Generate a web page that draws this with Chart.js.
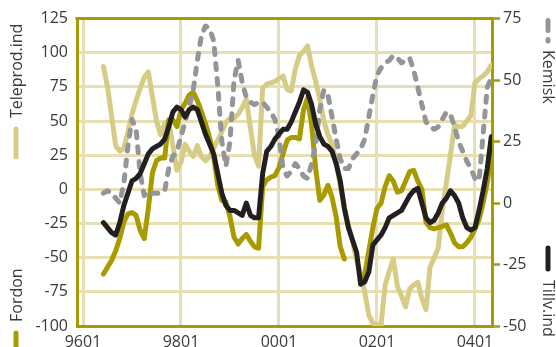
<!DOCTYPE html>
<html><head><meta charset="utf-8">
<script src="https://cdn.jsdelivr.net/npm/chart.js@4/dist/chart.umd.min.js"></script>
<style>html,body{margin:0;padding:0;background:#fff;overflow:hidden}#wrap{width:556px;height:347px;position:relative}</style>
</head><body><div id="wrap"><canvas id="c" width="556" height="347"></canvas></div>
<script>
// Monthly categories 9606 .. 0405
const months = (function(){const out=[];let y=1996,m=6;while(!(y===2004&&m===6)){out.push(String(y%100).padStart(2,'0')+String(m).padStart(2,'0'));m++;if(m>12){m=1;y++;}}return out;})();
const tickLabels = ['9601','9801','0001','0201','0401'];
const leftTicks = [-100,-75,-50,-25,0,25,50,75,100,125];
const rightTicks = [-50,-25,0,25,50,75];

// Left axis series
const teleprod = [90,75,54,32,28,30,42,55,65,74,82,86,68,50,40,48,50,32,14,20,33,28,24,32,24,21,24,30,36,42,49,52,52,55,60,66,45,25,17,74,77,78,79,81,83,73,72,88,98,101,105,90,79,66,50,40,33,21,2,-14,-26,-38,-52,-62,-75,-92,-98,-99,-99,-70,-60,-51,-71,-78,-86,-73,-70,-68,-80,-88,-57,-50,-43,-15,5,25,47,46,46,50,54,78,81,83,86,91];
const fordon = [-62,-57,-52,-45,-36,-24,-18,-17,-19,-30,-36,-14,12,21,23,23,51,51,46,58,63,69,71,65,57,48,38,24,3,-8,-9,-20,-35,-40,-36,-33,-38,-42,-43,2,7,9,10,16,26,36,38,38,37,58,67,47,15,-8,-4,3,-6,-20,-42,-51,null,null,null,-69,-62,-45,-28,-14,-10,2,10,6,-2,-1,6,13,14,6,0,-24,-28,-29,-28,-27,-26,-32,-39,-42,-42,-39,-35,-29,-22,-10,5,25];
// Right axis series
const kemisk = [4,5,4,2,0,8,23,34,30,12,3,5,4,4,4,5,14,19,21,27,33,39,46,58,68,72,71,66,48,25,15,25,50,58,49,43,41,40,41,41,39,37,34,27,14,11,13,16,14,11,10,16,24,38,46,44,35,26,18,14,14,18,20,22,26,35,44,52,55,57,58,60,59,57,58,59,54,47,40,33,31,30,31,34,37,36,31,25,21,17,14,10,9,28,47,51];
const tillv = [-8,-10,-12,-13,-8,-1,4,9,10,12,16,20,22,23,24,26,31,37,39,38,35,38,39,38,33,28,24,20,12,4,-1,-3,-3,-4,-5,0,-5,-6,-6,12,21,23,26,28,30,30,33,37,41,46,45,40,32,27,24,23,21,16,9,-2,-10,-15,-20,-33,-32,-28,-17,-15,-13,-10,-6,-5,-4,-3,0,3,5,6,0,-6,-8,-7,-4,0,2,5,3,0,-6,-10,-11,-10,-3,5,14,27];

const C = {tele:'#d6cc86', ford:'#a89b00', kem:'#939598', till:'#231f20', grid:'#e7dfb3', axis:'#a89b00', text:'#3a3a3a'};
function monthIndex(l){const yy=+l.slice(0,2),mm=+l.slice(2);const y=yy<50?2000+yy:1900+yy;return (y-1996)*12+mm-1;}
const pts = arr => months.map((l,i)=>({x:monthIndex(l),y:arr[i]}));

Chart.defaults.font.family = "'Open Sans', sans-serif";
Chart.defaults.font.size = 16;
Chart.defaults.color = C.text;

const sideLegend = {
  id:'sideLegend',
  beforeDatasetsDraw(chart){
    const {ctx, chartArea:a} = chart;
    ctx.save(); ctx.strokeStyle=C.axis; ctx.lineWidth=3;
    ctx.beginPath(); ctx.moveTo(a.left-1.5,a.top); ctx.lineTo(a.right+1.5,a.top); ctx.stroke();
    ctx.restore();
  },
  afterDraw(chart){
    const ctx = chart.ctx; ctx.save();
    ctx.font = "16px 'Open Sans', sans-serif"; ctx.fillStyle = C.text; ctx.textBaseline='middle'; ctx.textAlign='left';
    const left=(t,x,y)=>{ctx.save();ctx.translate(x,y);ctx.rotate(-Math.PI/2);ctx.fillText(t,0,0);ctx.restore();};
    const right=(t,x,y)=>{ctx.save();ctx.translate(x,y);ctx.rotate(Math.PI/2);ctx.fillText(t,0,0);ctx.restore();};
    left('Teleprod.ind',17,118); left('Fordon',17,322);
    right('Kemisk',548,50); right('Tillv.ind',548,280);
    ctx.lineCap='round'; ctx.lineWidth=5;
    const seg=(col,x,y1,y2,dash)=>{ctx.strokeStyle=col;ctx.setLineDash(dash||[]);ctx.beginPath();ctx.moveTo(x,y1);ctx.lineTo(x,y2);ctx.stroke();};
    seg(C.tele,16,129,157); seg(C.ford,16,333,352);
    seg(C.kem,548,20.5,41,[10,9]); seg(C.till,548,248,269);
    ctx.restore();
  }
};

const ds = (label,arr,color,axis,order,extra)=>Object.assign({label,data:pts(arr),borderColor:color,backgroundColor:color,yAxisID:axis,order,borderWidth:5,pointRadius:0,tension:0,borderJoinStyle:'round',borderCapStyle:'round',fill:false,spanGaps:false},extra||{});

new Chart(document.getElementById('c'),{
  type:'line',
  data:{datasets:[
    ds('Tillv.ind',tillv,C.till,'yR',0),
    ds('Kemisk',kemisk,C.kem,'yR',1,{borderDash:[6,9]}),
    ds('Fordon',fordon,C.ford,'yL',2),
    ds('Teleprod.ind',teleprod,C.tele,'yL',3)
  ]},
  options:{
    responsive:false, animation:false, devicePixelRatio:1,
    layout:{padding:{top:17,left:0,right:0,bottom:0}},
    plugins:{legend:{display:false},tooltip:{enabled:false}},
    scales:{
      x:{type:'linear',min:-1.47,max:100.17,
        afterBuildTicks:s=>{s.ticks=tickLabels.map(l=>({value:monthIndex(l)}));},
        afterFit:s=>{s.height=21;},
        ticks:{autoSkip:false,maxRotation:0,padding:7,callback:v=>{const l=tickLabels.find(t=>monthIndex(t)===v);return l||'';}},
        grid:{color:C.grid,lineWidth:3,drawTicks:false},
        border:{color:C.axis,width:3}},
      yL:{position:'left',min:-100,max:125,
        afterBuildTicks:s=>{s.ticks=leftTicks.map(v=>({value:v}));},
        afterFit:s=>{s.width=77;},
        ticks:{padding:9},
        grid:{color:C.grid,lineWidth:3,drawTicks:false},
        border:{color:C.axis,width:3}},
      yR:{position:'right',min:-50,max:75,
        afterBuildTicks:s=>{s.ticks=rightTicks.map(v=>({value:v}));},
        afterFit:s=>{s.width=64;},
        ticks:{padding:3},
        grid:{drawOnChartArea:false,drawTicks:true,tickLength:8,tickColor:C.axis,tickWidth:2.5,color:C.axis},
        border:{color:C.axis,width:3}}
    }
  },
  plugins:[sideLegend]
});
</script></body></html>
